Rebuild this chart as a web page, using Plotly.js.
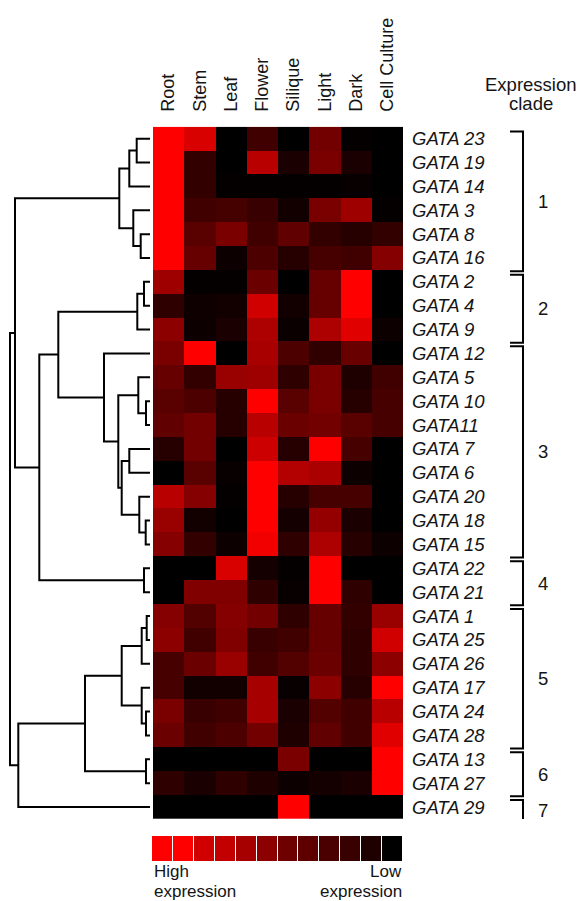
<!DOCTYPE html>
<html><head><meta charset="utf-8">
<script src="https://cdn.plot.ly/plotly-3.0.1.min.js"></script>
<style>html,body{margin:0;padding:0;background:#fff}#chart{width:581px;height:901px}</style>
</head><body><div id="chart"></div>
<script>
// ---------- DATA ----------
const columns = ['Root','Stem','Leaf','Flower','Silique','Light','Dark','Cell Culture'];
const genes = ['GATA 23','GATA 19','GATA 14','GATA 3','GATA 8','GATA 16','GATA 2','GATA 4','GATA 9',
  'GATA 12','GATA 5','GATA 10','GATA11','GATA 7','GATA 6','GATA 20','GATA 18','GATA 15',
  'GATA 22','GATA 21','GATA 1','GATA 25','GATA 26','GATA 17','GATA 24','GATA 28','GATA 13','GATA 27','GATA 29'];
// relative expression (0 = low, 1 = high), one array per tissue, rows in gene order
const root    = [1,1,1,1,1,1,0.62,0.18,0.55,0.48,0.4,0.35,0.38,0.15,0,0.72,0.6,0.52,0,0,0.52,0.55,0.28,0.28,0.48,0.42,0,0.18,0];
const stem    = [0.85,0.2,0.2,0.25,0.35,0.4,0.02,0.06,0.05,1,0.2,0.3,0.45,0.45,0.35,0.52,0.07,0.2,0,0.5,0.32,0.25,0.42,0.07,0.22,0.25,0,0.1,0];
const leaf    = [0,0,0.02,0.27,0.48,0.05,0.02,0.07,0.1,0,0.6,0.15,0.15,0,0.03,0.02,0,0.05,0.85,0.5,0.52,0.5,0.6,0.07,0.25,0.3,0,0.18,0];
const flower  = [0.25,0.72,0.02,0.22,0.25,0.3,0.42,0.82,0.68,0.66,0.62,1,0.72,0.8,1,1,1,0.95,0.08,0.18,0.45,0.22,0.25,0.65,0.65,0.45,0,0.12,0];
const silique = [0,0.1,0.02,0.07,0.38,0.15,0,0.07,0.04,0.3,0.18,0.35,0.42,0.15,0.7,0.15,0.08,0.18,0.02,0.03,0.18,0.25,0.32,0.03,0.1,0.12,0.48,0.05,1];
const light   = [0.45,0.48,0.02,0.48,0.2,0.28,0.4,0.4,0.68,0.19,0.48,0.48,0.45,1,0.67,0.28,0.58,0.68,1,1,0.4,0.4,0.42,0.55,0.32,0.38,0,0.08,0];
const dark    = [0.02,0.1,0.03,0.62,0.15,0.25,1,1,0.88,0.41,0.12,0.15,0.35,0.28,0.05,0.28,0.1,0.15,0,0.18,0.2,0.18,0.18,0.15,0.25,0.25,0,0.1,0];
const cellCulture = [0,0,0,0.02,0.2,0.52,0,0,0.05,0,0.25,0.28,0.28,0,0,0,0,0.05,0,0,0.6,0.82,0.55,1,0.72,0.88,1,1,0];
// hierarchical clustering: merge k joins node linkA[k] and linkB[k] at distance linkH[k]
// (leaves 0..28 are the rows; merged nodes are numbered 29, 30, ...)
const linkA = [0,29,4,3,30,6,34,11,10,13,16,15,38,37,9,35,18,44,33,20,48,24,23,49,26,52,54,47];
const linkB = [1,2,5,31,32,7,8,12,36,14,17,39,40,41,42,43,19,45,46,21,22,25,50,51,27,53,28,55];
const linkH = [13.3,20.7,9.3,16.7,30.7,6,12.7,4,11.7,20.7,4.3,10.7,28.3,31.7,46,91.7,6,110.7,135,3.3,8.3,4,8.3,28.3,4,65,131.7,140];
const cladeNames = ['1','2','3','4','5','6','7'];
const cladeStart = [0,6,9,18,20,26,28];
const cladeEnd   = [5,8,17,19,25,27,28];
const legendLevels = [1,1,0.82,0.76,0.65,0.55,0.43,0.37,0.29,0.22,0.12,0];

// ---------- LAYOUT CONSTANTS ----------
const W=581,H=901;
const FONT='"Liberation Sans", Arial, Helvetica, sans-serif';
const TXT='#141414';
const hmL=153, hmR=403, hmT=126.7, hmB=819;
const px=v=>v/W, py=v=>1-v/H;

const tissues=[root,stem,leaf,flower,silique,light,dark,cellCulture];
const z = genes.map((g,i)=>tissues.map(t=>t[i]));
const rowIdx = genes.map((g,i)=>i);
const colIdx = columns.map((c,j)=>j);
const redScale=[[0,'#000000'],[1,'#ff0000']];

// dendrogram segments
const nodeY = rowIdx.slice(), nodeH = rowIdx.map(()=>0);
const dX=[], dY=[];
linkA.forEach((a,k)=>{
  const b=linkB[k], h=linkH[k];
  const ya=nodeY[a], yb=nodeY[b];
  dX.push(nodeH[a],h,h,nodeH[b],null);
  dY.push(ya,ya,yb,yb,null);
  nodeY.push((ya+yb)/2); nodeH.push(h);
});

// brackets
const bX=[], bY=[], annots=[];
cladeStart.forEach((s,k)=>{
  const top=s-0.5+0.2, bot=cladeEnd[k]+0.5+0.05;
  bX.push(510,523,523,510,null); bY.push(top,top,bot,bot,null);
  annots.push({xref:'paper',yref:'y',x:px(543),y:(top+bot)/2,text:cladeNames[k],showarrow:false,
    xanchor:'center',yanchor:'middle',font:{family:FONT,size:18.5,color:TXT}});
});
annots.push({xref:'paper',yref:'paper',x:px(531),y:py(85),text:'Expression',showarrow:false,xanchor:'center',yanchor:'middle',font:{family:FONT,size:18.5,color:TXT}});
annots.push({xref:'paper',yref:'paper',x:px(531),y:py(103.5),text:'clade',showarrow:false,xanchor:'center',yanchor:'middle',font:{family:FONT,size:18.5,color:TXT}});
annots.push({xref:'paper',yref:'paper',x:px(152),y:py(871),text:'High',showarrow:false,xanchor:'left',yanchor:'middle',font:{family:FONT,size:17,color:TXT}});
annots.push({xref:'paper',yref:'paper',x:px(152),y:py(891),text:'expression',showarrow:false,xanchor:'left',yanchor:'middle',font:{family:FONT,size:17,color:TXT}});
annots.push({xref:'paper',yref:'paper',x:px(404),y:py(871),text:'Low',showarrow:false,xanchor:'right',yanchor:'middle',font:{family:FONT,size:17,color:TXT}});
annots.push({xref:'paper',yref:'paper',x:px(404),y:py(891),text:'expression',showarrow:false,xanchor:'right',yanchor:'middle',font:{family:FONT,size:17,color:TXT}});

const traces=[
  {type:'heatmap',x:colIdx,y:rowIdx,z:z,colorscale:redScale,zmin:0,zmax:1,showscale:false,xaxis:'x',yaxis:'y',hoverinfo:'skip'},
  {type:'scatter',mode:'lines',x:dX,y:dY,xaxis:'x2',yaxis:'y',line:{color:'#000',width:2},hoverinfo:'skip',showlegend:false},
  {type:'scatter',mode:'lines',x:bX,y:bY,xaxis:'x3',yaxis:'y',line:{color:'#000',width:2},hoverinfo:'skip',showlegend:false},
  {type:'heatmap',x:legendLevels.map((v,i)=>i),y:[0],z:[legendLevels],colorscale:redScale,zmin:0,zmax:1,showscale:false,xgap:1,xaxis:'x4',yaxis:'y2',hoverinfo:'skip'}
];

const layout={
  width:W,height:H,margin:{l:0,r:0,t:0,b:0},paper_bgcolor:'#fff',plot_bgcolor:'rgba(0,0,0,0)',showlegend:false,
  xaxis:{domain:[px(hmL),px(hmR)],range:[-0.5,7.5],side:'top',anchor:'y',tickvals:colIdx,ticktext:columns,tickangle:-90,
    ticks:'',showgrid:false,zeroline:false,showline:false,ticklabelstandoff:14,automargin:false,
    tickfont:{family:FONT,size:18,color:TXT},fixedrange:true},
  yaxis:{domain:[py(hmB),py(hmT)],range:[28.5,-0.5],side:'right',anchor:'x',tickvals:rowIdx,ticktext:genes,
    ticks:'',showgrid:false,zeroline:false,showline:false,ticklabelstandoff:8,automargin:false,
    tickfont:{family:FONT,size:18.5,color:TXT,style:'italic'},fixedrange:true},
  xaxis2:{domain:[0,px(150)],range:[150,0],anchor:'y',visible:false,fixedrange:true},
  xaxis3:{domain:[0,1],range:[0,W],anchor:'y',visible:false,fixedrange:true},
  xaxis4:{domain:[px(152),px(403)],range:[-0.5,11.5],anchor:'y2',visible:false,fixedrange:true},
  yaxis2:{domain:[py(861),py(836)],range:[-0.5,0.5],anchor:'x4',visible:false,fixedrange:true},
  annotations:annots
};
Plotly.newPlot('chart',traces,layout,{staticPlot:true,displayModeBar:false});
</script></body></html>
